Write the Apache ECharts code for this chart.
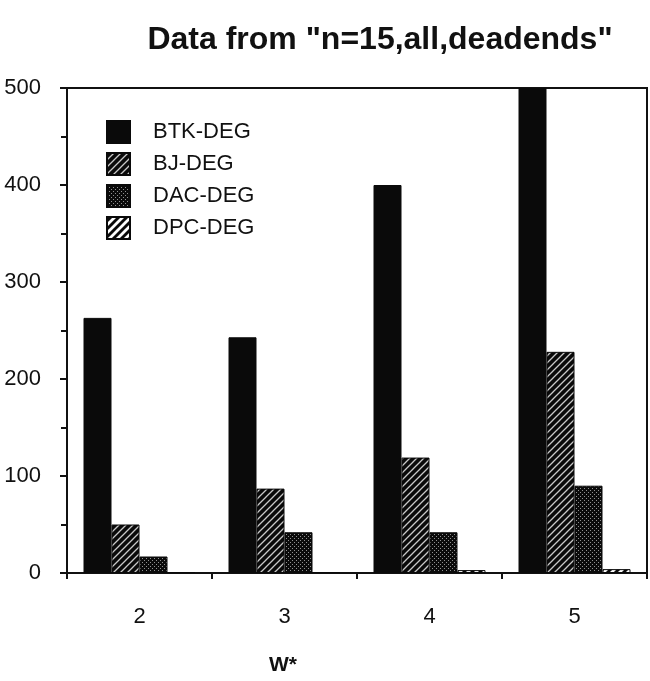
<!DOCTYPE html>
<html>
<head>
<meta charset="utf-8">
<script src="https://cdn.jsdelivr.net/npm/echarts@6/dist/echarts.min.js"></script>
<style>
  html, body { margin: 0; padding: 0; background: #ffffff; }
  #chart { width: 650px; height: 681px; }
</style>
</head>
<body>
<div id="chart"></div>
<script>
// W* values on the horizontal axis
const categories = ['2', '3', '4', '5'];

// Dead-end counts per method
const btkDeg = [263, 243, 400, 500];
const bjDeg  = [50, 87, 119, 228];
const dacDeg = [17, 42, 42, 90];
const dpcDeg = [1, 1, 3, 4];

const yTicks = { min: 0, max: 500, interval: 100 };

const FONT = '"Liberation Sans", Arial, Helvetica, sans-serif';

// Fill patterns drawn on small tiles
function hatchTile(size, lineWidth, fg) {
  const c = document.createElement('canvas');
  c.width = size; c.height = size;
  const g = c.getContext('2d');
  g.fillStyle = '#0a0a0a';
  g.fillRect(0, 0, size, size);
  g.strokeStyle = fg;
  g.lineWidth = lineWidth;
  g.beginPath();
  g.moveTo(0, size); g.lineTo(size, 0);
  g.moveTo(-size / 2, size / 2); g.lineTo(size / 2, -size / 2);
  g.moveTo(size / 2, size * 1.5); g.lineTo(size * 1.5, size / 2);
  g.stroke();
  return { image: c, repeat: 'repeat' };
}

function dotTile(fg) {
  const c = document.createElement('canvas');
  c.width = 4; c.height = 4;
  const g = c.getContext('2d');
  g.fillStyle = '#0a0a0a';
  g.fillRect(0, 0, 4, 4);
  g.fillStyle = fg;
  g.fillRect(0, 0, 1, 1);
  g.fillRect(2, 2, 1, 1);
  return { image: c, repeat: 'repeat' };
}

const fills = {
  btk: '#0a0a0a',
  bj: hatchTile(7, 1.3, '#c8c8c8'),
  dac: dotTile('#909090'),
  dpc: hatchTile(8, 2.8, '#ffffff')
};

function barSeries(name, data, fill) {
  return {
    name: name,
    type: 'bar',
    data: data,
    barWidth: 28,
    barGap: '0%',
    itemStyle: { color: fill, borderColor: '#0a0a0a', borderWidth: 1 },
    emphasis: { disabled: true }
  };
}

const chart = echarts.init(document.getElementById('chart'), null, { renderer: 'canvas' });

chart.setOption({
  backgroundColor: '#ffffff',
  animation: false,
  title: {
    text: 'Data from "n=15,all,deadends"',
    left: 375,
    top: 19,
    textAlign: 'center',
    textStyle: { fontFamily: FONT, fontWeight: 'bold', fontSize: 32, color: '#111' }
  },
  legend: {
    orient: 'vertical',
    left: 101,
    top: 115,
    itemWidth: 23,
    itemHeight: 22,
    itemGap: 8,
    icon: 'rect',
    selectedMode: false,
    textStyle: { fontFamily: FONT, fontSize: 22, color: '#111', padding: [0, 0, 0, 18] },
    data: ['BTK-DEG', 'BJ-DEG', 'DAC-DEG', 'DPC-DEG']
  },
  grid: {
    left: 67, right: 3, top: 88, bottom: 96,
    show: true, borderColor: '#111', borderWidth: 2,
    containLabel: false
  },
  xAxis: {
    type: 'category',
    data: categories,
    name: 'W*',
    nameLocation: 'middle',
    nameGap: 82,
    nameTextStyle: { fontFamily: FONT, fontWeight: 'bold', fontSize: 21, color: '#111', padding: [0, 148, 0, 0] },
    axisLine: { lineStyle: { color: '#111', width: 2 } },
    axisTick: { show: true, length: 6, inside: false, lineStyle: { color: '#111', width: 2 } },
    axisLabel: { fontFamily: FONT, fontSize: 22, color: '#111', margin: 33 },
    splitLine: { show: false }
  },
  yAxis: {
    type: 'value',
    min: yTicks.min,
    max: yTicks.max,
    interval: yTicks.interval,
    axisLine: { show: true, lineStyle: { color: '#111', width: 2 } },
    axisTick: { show: true, length: 7, inside: false, lineStyle: { color: '#111', width: 2 } },
    minorTick: { show: true, splitNumber: 2, length: 6, lineStyle: { color: '#111', width: 2 } },
    axisLabel: { fontFamily: FONT, fontSize: 22, color: '#111', margin: 26 },
    splitLine: { show: false }
  },
  series: [
    barSeries('BTK-DEG', btkDeg, fills.btk),
    barSeries('BJ-DEG', bjDeg, fills.bj),
    barSeries('DAC-DEG', dacDeg, fills.dac),
    barSeries('DPC-DEG', dpcDeg, fills.dpc)
  ]
});
</script>
</body>
</html>
